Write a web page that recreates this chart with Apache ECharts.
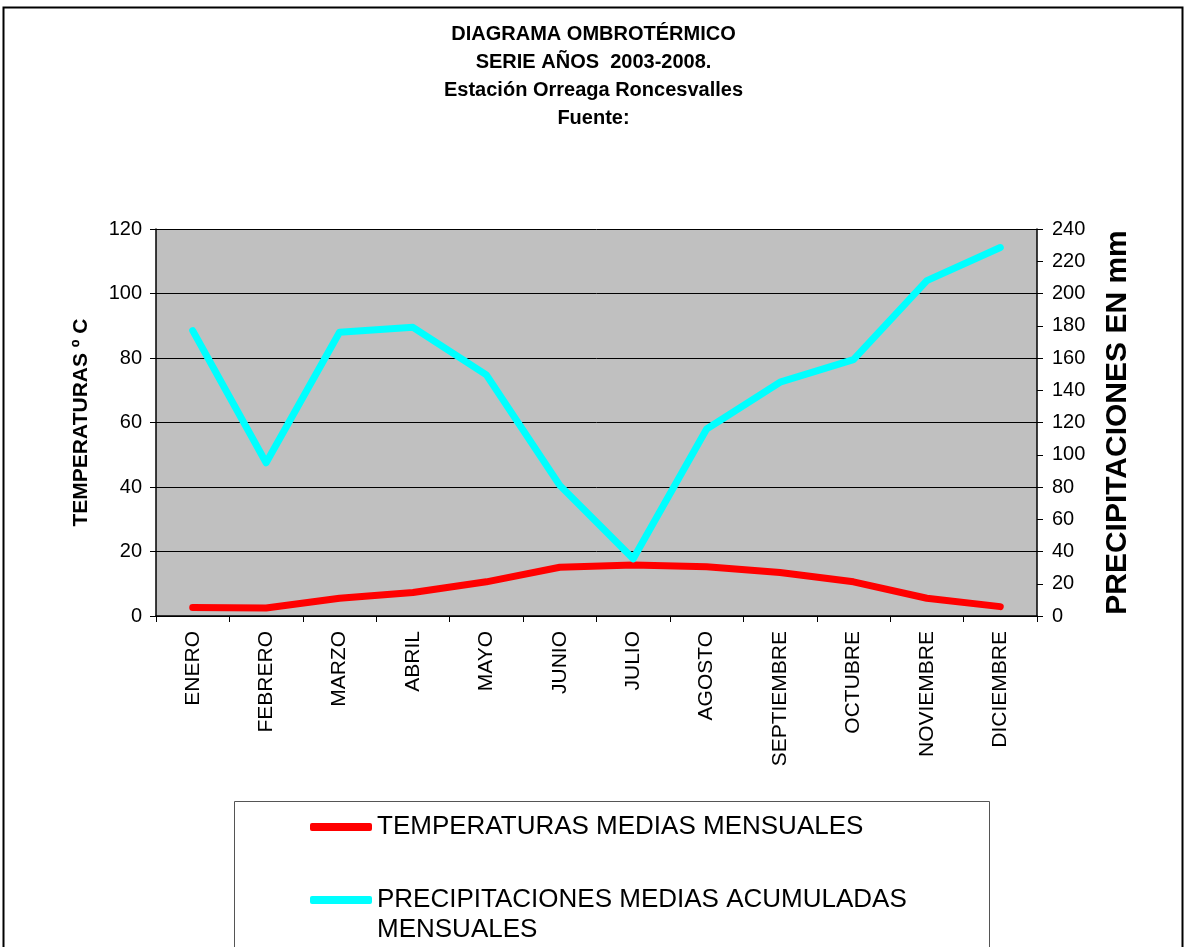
<!DOCTYPE html>
<html><head><meta charset="utf-8">
<script src="https://cdn.jsdelivr.net/npm/echarts@6/dist/echarts.min.js"></script>
<style>html,body{margin:0;padding:0;background:#fff}#c{width:1187px;height:947px}</style>
</head><body><div id="c"></div>
<script>
const months = ['ENERO','FEBRERO','MARZO','ABRIL','MAYO','JUNIO','JULIO','AGOSTO','SEPTIEMBRE','OCTUBRE','NOVIEMBRE','DICIEMBRE'];
const temperaturas = [2.6, 2.5, 5.5, 7.3, 10.6, 15.1, 15.8, 15.3, 13.5, 10.6, 5.5, 2.9];
const precipitaciones = [177, 95, 176, 179, 149.5, 81, 35.5, 116, 145, 159, 208, 228.5];
const titleLines = ['DIAGRAMA OMBROTÉRMICO','SERIE AÑOS  2003-2008.','Estación Orreaga Roncesvalles','Fuente:'];
const nameTemp = 'TEMPERATURAS MEDIAS MENSUALES';
const namePrec = 'PRECIPITACIONES MEDIAS ACUMULADAS MENSUALES';

const chart = echarts.init(document.getElementById('c'));
const font = '"Liberation Sans", Arial, sans-serif';
const legendBase = {
  orient: 'horizontal', left: 310, padding: 0,
  itemWidth: 62, itemHeight: 8, icon: 'roundRect',
  textStyle: {fontFamily: font, fontSize: 26, color: '#000', lineHeight: 30}
};
chart.setOption({
  backgroundColor: '#ffffff',
  animation: false,
  title: {
    text: titleLines.join('\n'),
    left: 'center', top: 15,
    textStyle: {fontFamily: font, fontSize: 20, fontWeight: 'bold', color: '#000', lineHeight: 28}
  },
  graphic: [
    {type: 'rect', shape: {x: 3.5, y: 7.5, width: 1179, height: 960}, style: {fill: 'none', stroke: '#000', lineWidth: 2}, z: -1},
    {type: 'rect', shape: {x: 234.5, y: 801.5, width: 755, height: 200}, style: {fill: '#fff', stroke: '#555', lineWidth: 1}, z: -1}
  ],
  legend: [
    Object.assign({}, legendBase, {top: 812, data: [nameTemp]}),
    Object.assign({}, legendBase, {top: 855, data: [namePrec],
      formatter: function () { return '\u00a0\nPRECIPITACIONES MEDIAS ACUMULADAS\nMENSUALES'; }})
  ],
  grid: {left: 156, right: 150, top: 229, bottom: 331, show: true, backgroundColor: '#c0c0c0', borderWidth: 0},
  xAxis: {
    type: 'category', data: months, boundaryGap: true,
    axisLine: {lineStyle: {color: '#000', width: 1.5}},
    axisTick: {show: true, interval: 0, length: 6, lineStyle: {color: '#000'}},
    axisLabel: {rotate: 90, interval: 0, margin: 15, fontFamily: font, fontSize: 21, color: '#000'}
  },
  yAxis: [
    {
      type: 'value', min: 0, max: 120, interval: 20, position: 'left',
      name: 'TEMPERATURAS º C', nameLocation: 'middle', nameGap: 64, nameRotate: 90,
      nameTextStyle: {fontFamily: font, fontSize: 21, fontWeight: 'bold', color: '#000'},
      axisLine: {show: true, lineStyle: {color: '#000', width: 1.5}},
      axisTick: {show: true, length: 6, lineStyle: {color: '#000'}},
      axisLabel: {margin: 14, fontFamily: font, fontSize: 20, color: '#000'},
      splitLine: {show: true, lineStyle: {color: '#000', width: 1}}
    },
    {
      type: 'value', min: 0, max: 240, interval: 20, position: 'right',
      name: 'PRECIPITACIONES EN mm', nameLocation: 'middle', nameGap: 66, nameRotate: 90,
      nameTextStyle: {fontFamily: font, fontSize: 30, fontWeight: 'bold', color: '#000'},
      axisLine: {show: true, lineStyle: {color: '#000', width: 1.5}},
      axisTick: {show: true, length: 6, lineStyle: {color: '#000'}},
      axisLabel: {margin: 15, fontFamily: font, fontSize: 20, color: '#000'},
      splitLine: {show: false}
    }
  ],
  series: [
    {name: nameTemp, type: 'line', yAxisIndex: 0, data: temperaturas, showSymbol: false, symbol: 'none',
     lineStyle: {color: '#ff0000', width: 7, cap: 'round', join: 'round'}, itemStyle: {color: '#ff0000'}},
    {name: namePrec, type: 'line', yAxisIndex: 1, data: precipitaciones, showSymbol: false, symbol: 'none',
     lineStyle: {color: '#00ffff', width: 7, cap: 'round', join: 'round'}, itemStyle: {color: '#00ffff'}}
  ]
});
</script></body></html>
